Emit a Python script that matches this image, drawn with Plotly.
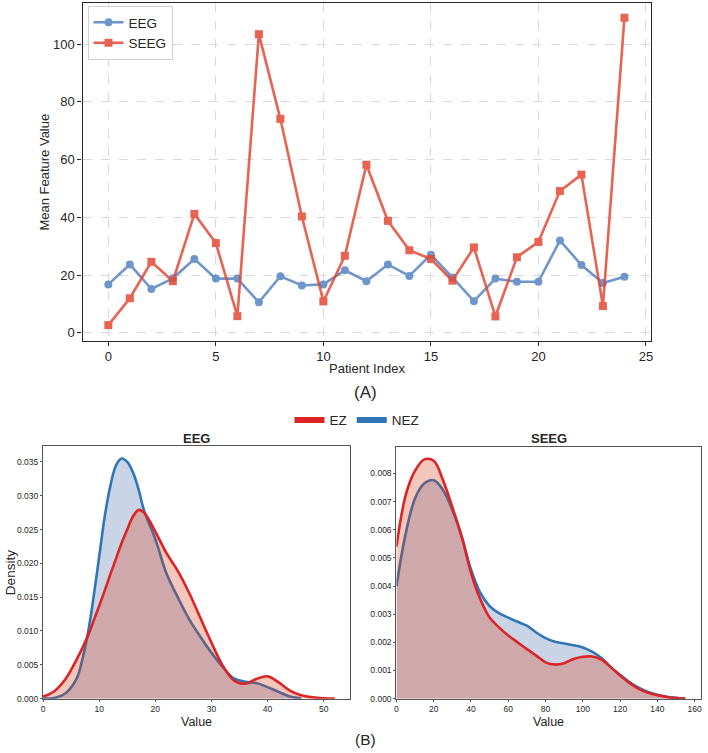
import plotly.graph_objects as go

# ---------------- data ----------------
patient_index = list(range(25))
eeg_mean = [16.8, 23.7, 15.2, 18.9, 25.6, 18.8, 18.8, 10.6, 19.6, 16.4, 16.8, 21.7,
            17.9, 23.7, 19.7, 27.1, 19.2, 11.0, 18.8, 17.7, 17.7, 32.0, 23.5, 17.3, 19.4]
seeg_mean = [2.7, 12.0, 24.6, 17.9, 41.2, 31.1, 5.8, 103.4, 74.1, 40.3, 10.9, 26.7,
             58.2, 38.8, 28.6, 25.6, 18.1, 29.6, 5.7, 26.2, 31.5, 49.1, 54.8, 9.3, 109.1]

# EEG density
eeg_x = [0, 2, 4, 6, 8, 9, 10, 11, 12, 13, 14, 15, 16, 17, 18, 20, 22, 24, 26, 28, 30,
         32, 34, 36, 38, 40, 42, 44, 46, 48, 50, 52]
eeg_ez = [0.0003, 0.0011, 0.0029, 0.0058, 0.0093, 0.0115, 0.0137, 0.0160, 0.0184, 0.0207,
          0.0230, 0.0250, 0.0269, 0.0279, 0.0275, 0.0247, 0.0215, 0.0189, 0.0157, 0.0120,
          0.0083, 0.0049, 0.0027, 0.0022, 0.0029, 0.0033, 0.0024, 0.0012, 0.0005, 0.0002,
          0.00005, 0.0]
eeg_nez_x = [0, 2, 4, 6, 7, 8, 9, 10, 11, 12, 13, 14, 15, 16, 17, 18, 20, 22, 24, 26, 28, 30,
             32, 34, 36, 38, 40, 42, 44, 46]
eeg_nez = [0.0, 0.0001, 0.0008, 0.0030, 0.0058, 0.0097, 0.0150, 0.0210, 0.0270, 0.0315, 0.0345,
           0.0355, 0.0350, 0.0335, 0.0310, 0.0278, 0.0236, 0.0185, 0.0150, 0.0118, 0.0092,
           0.0068, 0.0047, 0.0030, 0.0025, 0.0023, 0.0017, 0.0010, 0.0003, 0.00005]

# SEEG density
seeg_x = [0, 5, 10, 15, 20, 25, 30, 35, 40, 45, 50, 55, 60, 65, 70, 75, 80, 85, 90, 95,
          100, 105, 110, 115, 120, 125, 130, 135, 140, 145, 150, 155]
seeg_ez = [0.0054, 0.00724, 0.0081, 0.00850, 0.00845, 0.00776, 0.0068, 0.00576, 0.00447,
           0.00353, 0.00288, 0.00253, 0.00224, 0.0020, 0.00176, 0.00153, 0.00129, 0.00121,
           0.00126, 0.00141, 0.00149, 0.0015, 0.00139, 0.00112, 0.00082, 0.00056, 0.00035,
           0.00021, 0.00012, 0.00006, 0.00002, 0.0]
seeg_nez = [0.0040, 0.00588, 0.00712, 0.00765, 0.00776, 0.00741, 0.0067, 0.00576, 0.00459,
            0.00376, 0.00329, 0.00304, 0.00288, 0.00273, 0.00259, 0.00235, 0.00215, 0.00202,
            0.00196, 0.0019, 0.00182, 0.00167, 0.00144, 0.00112, 0.00085, 0.00059, 0.00039,
            0.00024, 0.00014, 0.00007, 0.00003, 0.0]

FONT = "Liberation Sans, Arial, Helvetica, sans-serif"
TXT = "#262626"
BLUE_LINE = "rgb(76,125,190)"
RED_LINE = "rgb(228,72,52)"
EZ_COL = "rgb(220,36,36)"
NEZ_COL = "rgb(48,118,182)"
EZ_FILL = "rgba(220,55,15,0.28)"
NEZ_FILL = "rgba(60,100,170,0.28)"

W, H = 708, 753
def px(x):
    return x / W
def py(y):
    return 1 - y / H

fig = go.Figure()

# ---------------- top chart ----------------
fig.add_trace(go.Scatter(x=patient_index, y=eeg_mean, mode="lines+markers", name="EEG",
                         line=dict(color=BLUE_LINE, width=2.6), opacity=0.8,
                         marker=dict(symbol="circle", size=8, color=BLUE_LINE),
                         xaxis="x", yaxis="y", legend="legend"))
fig.add_trace(go.Scatter(x=patient_index, y=seeg_mean, mode="lines+markers", name="SEEG",
                         line=dict(color=RED_LINE, width=2.6), opacity=0.85,
                         marker=dict(symbol="square", size=8, color=RED_LINE),
                         xaxis="x", yaxis="y", legend="legend"))

# ---------------- density: EEG ----------------
fig.add_trace(go.Scatter(x=eeg_nez_x, y=eeg_nez, mode="lines", name="NEZ", fill="tozeroy",
                         fillcolor=NEZ_FILL, line=dict(color=NEZ_COL, width=2.6, shape="spline"),
                         xaxis="x2", yaxis="y2", showlegend=False))
fig.add_trace(go.Scatter(x=eeg_x, y=eeg_ez, mode="lines", name="EZ", fill="tozeroy",
                         fillcolor=EZ_FILL, line=dict(color=EZ_COL, width=2.6, shape="spline"),
                         xaxis="x2", yaxis="y2", showlegend=False))
# ---------------- density: SEEG ----------------
fig.add_trace(go.Scatter(x=seeg_x, y=seeg_nez, mode="lines", name="NEZ", fill="tozeroy",
                         fillcolor=NEZ_FILL, line=dict(color=NEZ_COL, width=2.6, shape="spline"),
                         xaxis="x3", yaxis="y3", showlegend=False))
fig.add_trace(go.Scatter(x=seeg_x, y=seeg_ez, mode="lines", name="EZ", fill="tozeroy",
                         fillcolor=EZ_FILL, line=dict(color=EZ_COL, width=2.6, shape="spline"),
                         xaxis="x3", yaxis="y3", showlegend=False))
# legend-only entries (thick line swatches)
fig.add_trace(go.Scatter(x=[None], y=[None], mode="lines", name="EZ",
                         line=dict(color=EZ_COL, width=6), xaxis="x2", yaxis="y2",
                         legend="legend2", legendrank=1))
fig.add_trace(go.Scatter(x=[None], y=[None], mode="lines", name="NEZ",
                         line=dict(color=NEZ_COL, width=6), xaxis="x2", yaxis="y2",
                         legend="legend2", legendrank=2))

top_axis = dict(showline=True, linecolor="#262626", linewidth=1.3, mirror=True,
                ticks="outside", ticklen=4, tickwidth=1, tickcolor="#262626",
                showgrid=True, gridcolor="#d9d9d9", griddash="dash", gridwidth=0.8,
                zeroline=False, tickfont=dict(family=FONT, size=13, color=TXT))
bot_axis = dict(showline=True, linecolor="#555555", linewidth=1.3, mirror=True,
                ticks="outside", ticklen=2, tickwidth=1, tickcolor="#555555",
                showgrid=False, zeroline=False,
                tickfont=dict(family=FONT, size=8.5, color=TXT))

fig.update_layout(
    width=W, height=H, margin=dict(l=0, r=0, t=0, b=0),
    paper_bgcolor="white", plot_bgcolor="white",
    font=dict(family=FONT, color=TXT),
    xaxis=dict(domain=[px(81), px(653)], range=[-1.2, 25.25], tickvals=[0, 5, 10, 15, 20, 25],
               anchor="y", **top_axis),
    yaxis=dict(domain=[py(343), py(3)], range=[-2.7, 114.2], tickvals=[0, 20, 40, 60, 80, 100],
               anchor="x", **top_axis),
    xaxis2=dict(domain=[px(41.3), px(350)], range=[0, 54.7], dtick=10, anchor="y2", **bot_axis),
    yaxis2=dict(domain=[py(703.3), py(449)], range=[0, 0.03735], dtick=0.005, tickformat=".3f",
                anchor="x2", **bot_axis),
    xaxis3=dict(domain=[px(396.7), px(703.3)], range=[0, 163.6], dtick=20, anchor="y3", **bot_axis),
    yaxis3=dict(domain=[py(703.3), py(450)], range=[0, 0.00894], dtick=0.001, tickformat=".3f",
                anchor="x3", **bot_axis),
    legend=dict(x=px(86), y=py(6), xanchor="left", yanchor="top", bgcolor="white",
                bordercolor="#d0d0d0", borderwidth=1, font=dict(family=FONT, size=13.5, color=TXT),
                tracegroupgap=2, itemwidth=30),
    legend2=dict(x=px(357), y=py(423), xanchor="center", yanchor="middle", orientation="h",
                 bgcolor="rgba(0,0,0,0)", font=dict(family=FONT, size=13.5, color=TXT),
                 itemwidth=30, traceorder="normal"),
)

annots = [
    dict(text="Mean Feature Value", x=px(43), y=py(173), textangle=-90, size=13),
    dict(text="Patient Index", x=px(367), y=py(371), size=13),
    dict(text="(A)", x=px(366), y=py(395), size=17),
    dict(text="<b>EEG</b>", x=px(195.6), y=py(441.5), size=13),
    dict(text="<b>SEEG</b>", x=px(550), y=py(441.5), size=13),
    dict(text="Density", x=px(8), y=py(576), textangle=-90, size=13.5),
    dict(text="Value", x=px(195.6), y=py(727), size=12.5),
    dict(text="Value", x=px(550), y=py(727), size=12.5),
    dict(text="(B)", x=px(366), y=py(744), size=15.5),
]
for a in annots:
    fig.add_annotation(text=a["text"], x=a["x"], y=a["y"], xref="paper", yref="paper",
                       showarrow=False, textangle=a.get("textangle", 0),
                       xanchor="center", yanchor="middle",
                       font=dict(family=FONT, size=a["size"], color=TXT))

fig.write_html("out.html")
